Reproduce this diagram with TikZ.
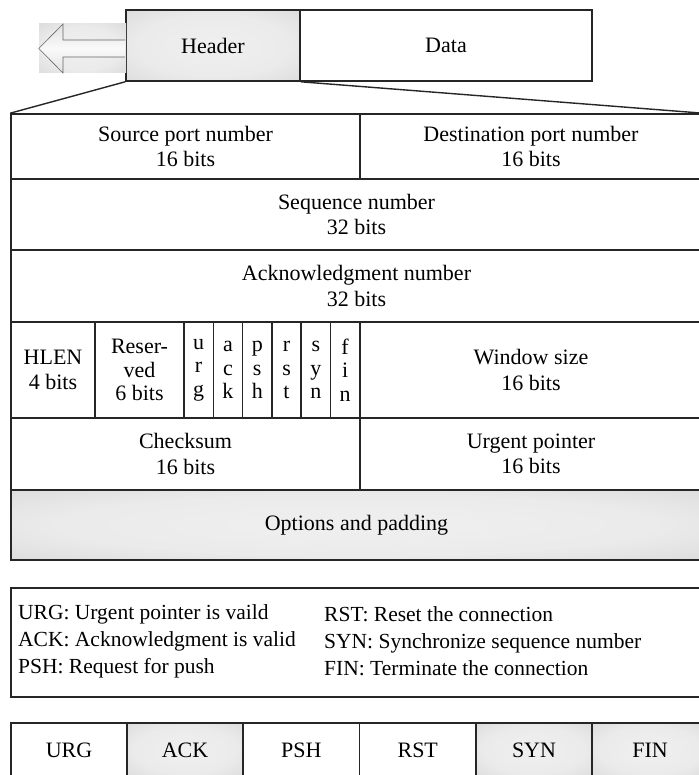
\documentclass[tikz,border=0pt]{standalone}
\usepackage{fontspec}
\setmainfont{Liberation Serif}
\newcommand\cellfont{\fontsize{22}{25.5}\selectfont}
\newcommand\flagfont{\fontsize{22}{23.5}\selectfont}
\newcommand\legfont{\fontsize{21.5}{27}\selectfont}
% soft grey glow: light centre, grey rim
\pgfdeclareradialshading{softglow}{\pgfpoint{0bp}{0bp}}{%
  color(0bp)=(black!6); color(22bp)=(black!8); color(40bp)=(black!15);
  color(50bp)=(black!24); color(72bp)=(black!30)}
\begin{document}
\begin{tikzpicture}[x=1pt,y=-1pt,
  ln/.style={draw=black!85,line width=1.6pt},
  cell/.style={ln,inner sep=0pt,align=center,font=\cellfont},
  flag/.style={cell,font=\flagfont,minimum width=29.3pt,minimum height=96pt},
  shaded/.style={shading=softglow},
]
\useasboundingbox (0,0) rectangle (698,775);

% segment: header and data
\node[cell,shaded,minimum width=174pt,minimum height=71pt] (header) at (213,45.5) {Header};
\node[cell,minimum width=292pt,minimum height=71pt] (data) at (446,45.5) {Data};

% arrow leaving the header
\node[inner sep=0pt,minimum width=87pt,minimum height=49pt,shading=softglow] (arrowbg) at (82.5,48.5) {};
\draw[draw=black!60,line width=0.6pt,top color=black!12,bottom color=black!12,middle color=black!2]
  (header.west |- 0,40) -- (63,40) -- (63,24) -- (arrowbg.west) -- (63,73) -- (63,57)
  -- (header.west |- 0,57);

% header fields
\node[cell,minimum width=349pt,minimum height=65pt] (src) at (185.5,146.5) {Source port number\\16 bits};
\node[cell,minimum width=342pt,minimum height=65pt] (dst) at (531,146.5) {Destination port number\\16 bits};
\node[cell,minimum width=691pt,minimum height=71pt] (seq) at (356.5,214.5) {Sequence number\\32 bits};
\node[cell,minimum width=691pt,minimum height=72pt] (ack) at (356.5,286) {Acknowledgment number\\32 bits};

\node[cell,minimum width=84pt,minimum height=96pt] (hlen) at (53,370) {HLEN\\4 bits};
\node[cell,font=\flagfont,minimum width=89pt,minimum height=96pt] (resv) at (139.5,370) {Reser-\\ved\\6 bits};
\node[flag] (furg) at (198.65,370) {u\\r\\g};
\node[flag] (fack) at (227.95,370) {a\\c\\k};
\node[flag] (fpsh) at (257.25,370) {p\\s\\h};
\node[flag] (frst) at (286.55,370) {r\\s\\t};
\node[flag] (fsyn) at (315.85,370) {s\\y\\n};
\node[flag] (ffin) at (345.15,370) {f\\i\\n};
\node[cell,minimum width=342pt,minimum height=96pt] (win) at (531,370) {Window size\\16 bits};

\node[cell,minimum width=349pt,minimum height=72pt] (chk) at (185.5,454) {Checksum\\16 bits};
\node[cell,minimum width=342pt,minimum height=72pt] (urg) at (531,454) {Urgent pointer\\16 bits};
\node[cell,shaded,minimum width=691pt,minimum height=70pt] (opt) at (356.5,525) {Options and padding};

% zoom lines from the header to the field layout
\draw[ln,line width=1.4pt] (header.south west) -- (src.north west);
\draw[ln,line width=1.4pt] (header.south east) -- (dst.north east);

% legend of the flags
\node[cell,minimum width=691pt,minimum height=109pt] (legend) at (356.5,642.5) {};
\node[font=\legfont,align=left,anchor=west,inner sep=0pt] (legl) at (18,641)
  {URG: Urgent pointer is vaild\\ACK: Acknowledgment is valid\\PSH: Request for push};
\node[font=\legfont,align=left,anchor=west,inner sep=0pt] (legr) at (324,641)
  {RST: Reset the connection\\SYN: Synchronize sequence number\\FIN: Terminate the connection};

% flag bits row
\node[cell,minimum width=116pt,minimum height=54pt] (bURG) at (69,750) {URG};
\node[cell,shaded,minimum width=116pt,minimum height=54pt] (bACK) at (185,750) {ACK};
\node[cell,minimum width=116.5pt,minimum height=54pt] (bPSH) at (301.25,750) {PSH};
\node[cell,minimum width=116.5pt,minimum height=54pt] (bRST) at (417.75,750) {RST};
\node[cell,shaded,minimum width=116pt,minimum height=54pt] (bSYN) at (534,750) {SYN};
\node[cell,shaded,minimum width=116pt,minimum height=54pt] (bFIN) at (650,750) {FIN};
\end{tikzpicture}
\end{document}
